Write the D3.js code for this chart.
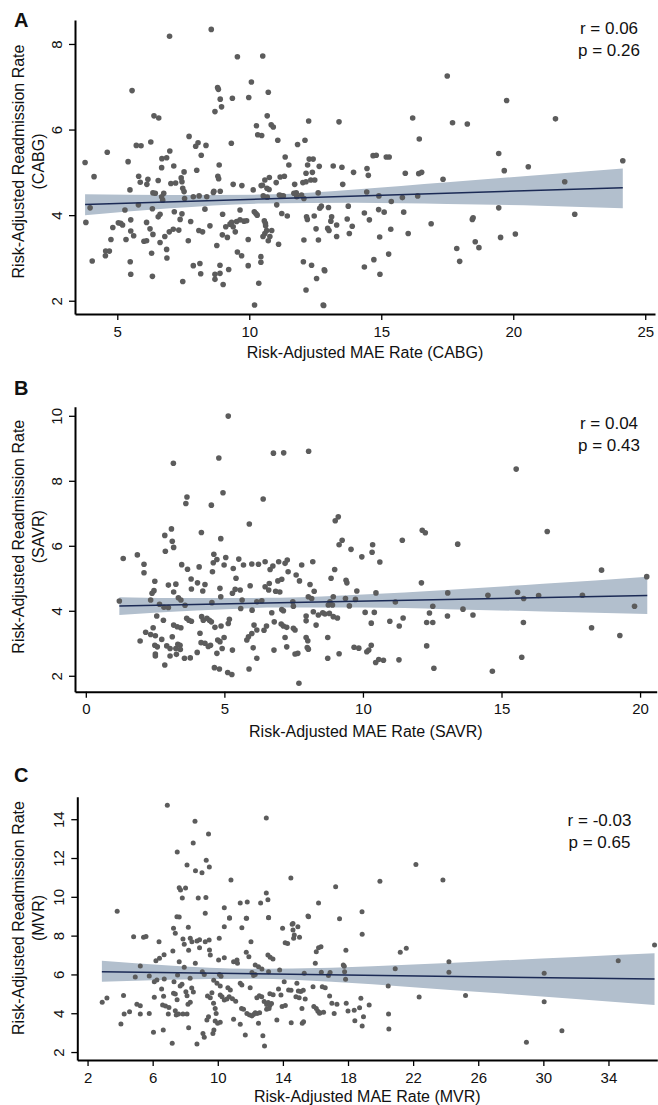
<!DOCTYPE html>
<html>
<head>
<meta charset="utf-8">
<script src="https://cdn.jsdelivr.net/npm/d3@7"></script>
<style>
  body { margin: 0; background: #fff; }
  svg { display: block; }
  text { font-family: "Liberation Sans", Arial, sans-serif; fill: #111; }
</style>
</head>
<body>
<svg id="chart" width="658" height="1105"></svg>
<script>
// ---------- Panel A: CABG  [MAE rate, readmission rate] per hospital ----------
const cabgPoints = [
  [3.78,5.23],[4.12,4.90],[4.62,5.47],[5.41,5.25],[5.56,6.91],[5.48,4.59],[5.72,5.63],[5.90,5.62],[5.81,4.91],[5.87,4.77],
  [6.12,4.72],[6.16,4.84],[6.27,5.71],[6.39,6.32],[6.57,6.27],[6.55,4.81],[6.35,4.52],[6.69,5.32],[6.87,5.34],[6.68,5.11],
  [6.98,8.18],[6.99,5.50],[7.14,5.15],[7.03,4.74],[7.21,4.75],[6.76,4.51],[7.42,4.87],[7.45,4.78],[7.48,4.63],[7.53,4.55],
  [7.53,5.01],[7.72,5.84],[8.01,5.05],[7.97,5.61],[8.06,5.69],[8.18,5.40],[8.36,5.63],[7.88,4.43],[8.39,4.43],[8.56,8.34],
  [8.66,4.56],[8.90,4.56],[8.70,6.42],[8.80,6.98],[8.83,6.94],[8.90,6.71],[8.95,6.53],[8.86,5.17],[8.81,4.91],[8.84,4.85],
  [9.36,6.73],[9.32,5.68],[9.39,4.72],[9.55,7.70],[9.72,4.69],[10.08,7.11],[9.98,6.75],[10.15,4.59],[10.27,6.09],[10.32,5.88],
  [10.47,5.86],[10.51,7.72],[10.45,4.69],[10.59,4.82],[10.76,4.88],[10.72,6.87],[10.68,6.32],[10.83,6.11],[10.91,6.06],[10.75,4.60],
  [11.02,4.76],[11.08,5.75],[11.17,4.89],[11.33,4.91],[11.36,5.36],[11.50,5.17],[11.72,4.72],[11.78,4.52],[11.83,5.65],[12.11,5.75],
  [12.25,6.20],[12.03,4.76],[12.15,4.78],[12.15,4.98],[12.21,5.17],[12.27,5.31],[12.42,5.31],[12.33,4.82],[12.39,5.00],[12.48,4.82],
  [12.65,5.14],[12.61,4.52],[11.20,4.46],[13.40,6.18],[13.18,5.15],[13.51,5.12],[13.95,5.00],[14.46,5.09],[14.51,4.93],[13.54,4.72],
  [14.69,5.39],[14.81,5.40],[15.19,5.36],[15.30,5.36],[16.19,6.27],[16.44,5.78],[15.91,4.98],[16.42,4.97],[16.53,5.00],[17.50,7.25],
  [17.70,6.16],[18.26,6.13],[17.34,4.84],[19.45,5.44],[19.75,6.68],[19.66,5.04],[20.57,5.13],[21.60,6.25],[21.95,4.78],[24.15,5.27],
  [14.45,4.54],[14.91,4.45],[15.80,4.41],[16.38,4.45],[15.38,4.32],[13.00,4.18],[13.12,3.96],[13.09,3.86],[13.31,3.77],[12.97,3.69],
  [13.02,3.64],[13.31,3.50],[13.75,4.21],[13.71,3.91],[13.90,3.74],[13.79,3.57],[14.36,4.05],[14.55,3.89],[14.90,4.13],[15.11,4.07],
  [14.94,3.49],[15.36,3.67],[15.85,4.07],[16.02,3.57],[16.89,3.80],[14.36,2.79],[14.72,2.96],[15.28,3.09],[14.95,2.62],[12.86,2.70],
  [12.82,1.89],[17.86,3.22],[17.97,2.92],[18.45,3.90],[18.48,3.94],[18.56,3.38],[18.70,3.24],[19.45,4.17],[19.52,3.48],[20.08,3.56],
  [22.33,4.02],[3.81,3.83],[3.97,4.17],[4.05,2.93],[4.55,3.05],[4.56,3.16],[4.70,3.16],[4.76,3.43],[4.83,3.71],[5.04,3.82],
  [5.13,3.81],[5.20,3.77],[5.29,4.12],[5.33,3.43],[5.51,3.89],[5.51,3.63],[5.62,3.52],[5.49,2.91],[5.51,2.62],[6.11,3.83],
  [6.01,3.39],[6.11,3.40],[6.24,3.68],[6.35,3.55],[6.30,3.11],[6.33,2.57],[6.33,4.15],[6.55,3.96],[6.62,4.02],[6.62,3.36],
  [6.80,3.50],[6.87,3.20],[6.88,3.00],[6.72,4.35],[6.68,4.43],[6.97,3.61],[7.12,3.67],[7.16,4.08],[7.33,3.65],[7.38,3.90],
  [7.45,4.03],[7.55,4.39],[7.48,2.45],[7.69,3.40],[7.78,3.85],[7.88,2.82],[8.13,2.87],[8.09,3.64],[8.23,3.61],[8.16,2.63],
  [8.32,4.14],[8.51,3.75],[8.70,2.50],[8.70,2.62],[8.89,2.64],[8.77,3.29],[8.99,4.02],[8.98,3.54],[9.17,3.48],[8.89,2.83],
  [9.01,2.38],[9.22,2.73],[9.11,3.73],[9.27,3.79],[9.33,3.83],[9.39,3.73],[9.47,3.61],[9.65,4.12],[9.55,3.14],[9.71,3.05],
  [9.52,3.85],[9.65,3.89],[9.80,3.86],[9.90,3.87],[9.96,3.43],[9.96,2.82],[10.19,4.08],[10.25,4.04],[10.30,4.00],[10.36,2.41],
  [10.20,1.90],[10.44,3.03],[10.44,2.90],[10.52,3.50],[10.59,3.57],[10.66,3.64],[10.57,3.87],[10.61,3.81],[10.62,3.75],[10.50,4.70],
  [10.67,4.63],[10.72,3.40],[10.78,3.50],[10.85,3.64],[11.11,3.32],[11.04,4.24],[11.23,4.04],[11.44,3.98],[12.07,3.42],[12.05,2.91],
  [12.15,2.25],[12.17,3.96],[12.20,3.90],[12.36,2.83],[12.53,3.68],[12.62,3.42],[12.55,2.52],[12.80,1.90],[12.84,2.72],[12.67,4.16],
  [12.73,4.21],[12.46,3.98],[5.80,4.24],[6.44,4.51],[8.10,4.45],[8.64,4.53],[10.53,4.45],[10.68,4.42],[11.14,4.47],[11.29,4.45],
  [11.69,4.51],[11.80,4.43],[11.98,4.47],[12.07,4.39]
];

// ---------- Panel B: SAVR ----------
const savrPoints = [
  [5.14,9.99],[8.04,8.91],[6.77,8.85],[7.14,8.86],[3.16,8.54],[4.80,8.70],[4.95,7.63],[6.40,7.44],[3.65,7.50],[3.61,7.30],
  [4.53,7.25],[5.90,6.67],[3.09,6.52],[2.85,6.32],[4.17,6.41],[3.12,6.14],[3.17,5.95],[2.87,5.83],[4.87,6.22],[4.62,5.74],
  [1.86,5.72],[1.35,5.61],[4.73,5.58],[5.05,5.64],[5.52,5.59],[15.53,8.36],[9.11,6.89],[9.00,6.77],[9.25,6.17],[9.14,6.03],
  [9.57,5.89],[9.96,5.66],[10.35,6.03],[10.33,5.80],[11.42,6.17],[12.14,6.48],[12.25,6.40],[13.42,6.05],[16.65,6.44],[10.61,5.50],
  [1.21,4.30],[2.10,5.43],[2.10,5.17],[1.96,3.07],[2.16,3.34],[2.34,3.27],[2.51,3.23],[2.39,4.54],[2.46,4.62],[2.49,4.91],
  [2.34,4.33],[2.56,3.84],[2.43,3.48],[2.49,2.94],[2.58,2.89],[2.51,2.67],[2.51,2.61],[2.74,3.12],[2.80,3.71],[2.66,4.20],
  [2.82,4.11],[2.98,4.10],[2.85,2.33],[2.98,4.79],[3.25,4.82],[3.17,4.58],[2.92,2.92],[3.04,2.84],[3.04,2.61],[3.12,3.20],
  [3.17,3.56],[3.30,3.51],[3.43,3.48],[3.34,4.40],[3.43,4.33],[3.25,2.84],[3.32,2.97],[3.40,2.94],[3.27,2.66],[3.41,2.81],
  [3.46,5.42],[3.67,5.28],[3.80,4.98],[3.64,3.77],[3.72,3.71],[3.81,3.68],[3.58,4.17],[3.56,2.54],[3.77,2.55],[3.81,4.67],
  [4.03,4.86],[4.09,5.35],[4.02,2.72],[4.12,3.31],[4.16,3.02],[4.18,3.82],[4.24,3.71],[4.37,3.77],[4.46,3.71],[4.53,3.66],
  [4.22,4.61],[4.30,4.81],[4.30,3.00],[4.42,2.90],[4.50,2.94],[4.57,5.20],[4.60,5.48],[4.55,4.25],[4.66,3.49],[4.64,2.25],
  [4.82,2.21],[4.73,2.69],[4.76,3.10],[4.84,3.05],[4.84,4.69],[4.87,4.43],[4.88,3.53],[4.92,2.84],[4.99,5.41],[4.99,3.18],
  [5.12,2.10],[5.27,2.04],[5.14,3.61],[5.18,3.74],[5.29,2.79],[5.29,4.54],[5.32,5.30],[5.42,5.00],[5.39,4.66],[5.57,4.64],
  [5.64,4.33],[5.69,5.41],[5.59,4.07],[5.81,3.10],[5.87,3.20],[5.99,3.30],[5.89,2.21],[5.93,4.77],[5.99,5.44],[6.23,5.43],
  [6.47,5.51],[6.04,2.86],[6.00,4.02],[6.17,2.54],[6.07,3.56],[6.17,3.41],[6.17,4.28],[6.35,4.31],[6.43,3.40],[6.52,3.53],
  [6.47,4.74],[6.60,4.64],[6.62,4.84],[6.65,5.27],[6.75,5.38],[6.71,3.94],[6.80,3.66],[6.79,2.79],[6.85,4.60],[7.00,4.58],
  [6.93,4.92],[7.07,4.97],[6.96,5.51],[7.19,5.46],[7.27,5.56],[7.07,4.04],[7.13,4.00],[7.05,3.59],[7.13,3.53],[7.25,3.49],
  [7.19,3.18],[7.25,2.89],[7.30,5.20],[7.55,2.67],[7.65,2.69],[7.59,5.10],[7.69,1.77],[7.71,4.92],[7.49,3.46],[7.55,3.41],
  [7.47,4.28],[7.49,4.14],[7.79,5.41],[7.95,3.84],[7.95,3.69],[7.95,3.18],[8.01,3.08],[7.99,2.87],[8.03,2.82],[8.03,4.43],
  [8.15,4.38],[8.09,4.81],[8.24,4.60],[8.19,5.51],[8.21,3.97],[8.39,3.87],[8.55,3.94],[8.31,3.56],[8.73,2.54],[8.73,3.18],
  [8.75,4.18],[8.98,5.27],[8.85,5.00],[9.39,4.94],[9.42,4.86],[9.78,4.61],[10.47,4.55],[8.93,4.43],[8.81,4.28],[8.90,4.18],
  [9.37,4.38],[9.51,4.15],[9.73,4.35],[8.63,3.90],[8.79,3.92],[8.93,3.82],[9.08,3.78],[10.08,3.95],[10.41,3.95],[10.30,3.62],
  [10.97,3.68],[11.31,3.53],[11.45,3.78],[11.17,4.27],[12.11,4.86],[12.52,4.14],[12.40,3.93],[12.30,3.64],[12.52,3.64],[13.06,4.55],
  [13.05,3.84],[13.61,4.05],[13.97,3.87],[14.51,4.48],[15.58,4.57],[15.80,4.38],[15.79,3.64],[16.34,4.47],[17.92,4.48],[18.61,5.25],
  [18.25,3.48],[19.27,3.24],[19.80,4.14],[20.24,5.05],[9.14,2.68],[9.68,2.88],[9.85,2.85],[10.14,2.74],[10.21,2.79],[10.30,2.94],
  [10.46,2.41],[10.57,2.50],[10.74,2.48],[11.30,2.49],[12.30,2.92],[12.56,2.23],[14.67,2.14],[15.73,2.57]
];

// ---------- Panel C: MVR ----------
const mvrPoints = [
  [6.90,14.72],[8.60,13.89],[9.43,13.24],[8.49,12.77],[7.51,12.31],[8.11,11.64],[9.29,11.88],[9.48,11.54],[8.63,11.35],[9.03,11.24],
  [12.98,14.06],[10.81,10.87],[14.49,10.97],[7.63,10.47],[7.71,10.35],[8.02,10.45],[7.82,9.94],[8.80,9.94],[9.27,9.97],[12.98,10.20],
  [13.08,9.85],[11.38,9.68],[11.81,9.73],[12.63,9.68],[10.40,9.44],[16.19,9.68],[3.82,9.25],[7.63,8.96],[9.23,9.15],[10.72,8.92],
  [11.75,8.89],[13.12,8.94],[15.54,9.01],[14.62,8.63],[22.17,11.66],[17.24,10.52],[19.96,10.80],[23.83,10.87],[17.48,8.87],[18.86,9.23],
  [2.90,4.56],[3.19,4.78],[4.05,3.44],[4.21,4.92],[4.25,3.96],[4.58,4.08],[4.83,7.94],[4.93,5.87],[5.03,4.46],[5.24,4.39],
  [5.24,3.96],[5.24,6.43],[5.44,7.91],[5.59,7.96],[5.79,3.99],[5.79,5.92],[6.05,3.02],[6.10,5.62],[6.26,5.71],[6.10,4.82],
  [6.20,6.71],[6.39,7.69],[6.42,6.83],[6.70,7.02],[6.55,5.25],[6.61,4.42],[6.65,3.13],[6.71,5.76],[6.67,4.87],[6.79,4.37],
  [7.00,4.30],[6.96,3.96],[7.20,2.45],[7.24,7.21],[7.28,8.38],[7.39,8.12],[7.49,8.97],[7.31,5.62],[7.53,5.97],[7.28,5.03],
  [7.39,4.99],[7.39,4.13],[7.45,3.91],[7.50,4.70],[7.59,3.96],[7.86,3.96],[8.11,3.96],[7.63,6.65],[7.69,5.40],[7.80,5.49],
  [7.86,7.82],[7.94,7.55],[7.94,6.37],[8.04,5.11],[8.11,4.90],[8.19,8.43],[8.21,7.24],[8.17,4.46],[8.31,4.56],[8.21,3.25],
  [8.31,7.86],[8.41,7.69],[8.30,5.80],[8.40,5.30],[8.50,5.10],[8.62,6.57],[8.72,2.41],[8.72,7.72],[8.88,7.79],[8.88,7.38],
  [9.05,6.14],[9.17,6.00],[9.09,2.96],[9.17,2.76],[9.23,7.69],[9.47,7.77],[9.33,3.65],[9.43,3.82],[9.49,7.26],[9.54,7.00],
  [9.37,4.89],[9.54,4.80],[9.70,2.96],[9.76,3.13],[9.64,5.06],[9.74,4.51],[9.84,4.25],[9.90,3.99],[9.84,3.60],[9.99,3.48],
  [10.15,3.53],[9.75,5.70],[9.95,5.55],[10.15,5.40],[10.09,7.86],[10.05,6.74],[10.40,6.86],[10.15,4.94],[10.26,4.85],[10.40,4.68],
  [10.56,4.73],[10.10,6.00],[10.20,5.90],[10.40,8.46],[10.72,8.89],[10.62,5.31],[10.77,5.20],[10.70,4.85],[10.90,4.75],[11.10,4.62],
  [10.97,6.65],[11.18,6.74],[11.21,6.57],[10.97,3.69],[11.38,5.54],[11.48,5.45],[11.48,8.41],[11.69,2.88],[11.77,8.89],[11.46,4.25],
  [11.58,4.20],[11.38,3.43],[11.75,7.14],[11.91,6.91],[11.79,3.99],[11.95,3.91],[12.10,3.86],[12.20,3.94],[12.30,4.03],[12.41,3.99],
  [12.57,4.03],[12.04,7.69],[11.99,5.31],[12.10,6.10],[12.20,5.95],[12.30,6.00],[12.30,6.48],[12.50,6.40],[12.71,6.28],[12.40,4.80],
  [12.55,4.90],[12.70,4.85],[12.50,3.48],[12.77,2.84],[12.87,2.31],[12.85,4.60],[13.00,4.45],[13.10,4.55],[13.20,4.40],[13.30,4.50],
  [13.00,4.20],[13.15,4.25],[13.08,7.00],[13.22,6.88],[13.39,6.79],[13.12,8.92],[13.12,6.14],[13.20,5.00],[13.40,4.95],[13.63,3.65],
  [13.73,5.25],[13.88,4.94],[13.80,6.23],[13.98,8.38],[14.08,5.62],[14.14,7.63],[14.29,7.60],[13.95,4.35],[14.15,4.40],[14.35,5.20],
  [14.50,5.18],[14.51,3.51],[14.57,8.58],[14.62,8.29],[14.70,8.03],[14.66,7.86],[14.92,8.46],[15.02,7.91],[14.86,5.54],[14.80,4.85],
  [15.00,4.80],[14.95,5.15],[15.10,5.12],[15.25,5.18],[15.17,4.25],[15.19,3.48],[15.27,3.56],[15.37,4.73],[15.31,6.06],[15.58,8.97],
  [15.85,5.37],[15.90,4.35],[16.05,4.25],[16.15,4.10],[16.25,4.00],[15.99,6.57],[16.05,7.17],[16.19,7.38],[16.34,7.43],[16.36,6.11],
  [16.42,5.37],[16.60,5.31],[16.80,5.95],[16.90,6.10],[18.87,8.07],[17.87,7.24],[21.21,7.14],[21.58,7.35],[17.71,6.48],[17.77,6.42],
  [17.79,6.14],[17.85,5.75],[20.90,6.29],[24.20,6.65],[24.20,6.11],[20.47,5.40],[16.87,4.89],[17.01,4.51],[17.32,4.46],[17.89,4.51],
  [18.79,4.77],[19.30,4.42],[22.37,4.84],[25.22,4.92],[30.05,6.06],[30.05,4.59],[34.60,6.71],[36.83,7.52],[31.14,3.10],[28.96,2.50],
  [16.29,4.03],[16.50,4.05],[17.15,3.99],[18.00,4.11],[18.38,4.15],[18.71,4.28],[18.95,3.82],[18.42,3.61],[18.87,3.34],[20.49,3.96],
  [20.51,3.19]
];

// Fitted regression line [x, y] at the ends of the data range
const cabgFit = [[3.78, 4.25], [24.15, 4.64]];
const savrFit = [[1.21, 4.15], [20.26, 4.47]];
const mvrFit  = [[2.88, 6.14], [36.83, 5.76]];

// 95% confidence band of the fit: [x, lower, upper]
const cabgBand = [[3.78,4.00,4.49],[7,4.16,4.47],[10.5,4.27,4.48],[14,4.29,4.60],[17.5,4.26,4.77],[21,4.22,4.94],[24.15,4.16,5.09]];
const savrBand = [[1.21,3.87,4.42],[4,4.01,4.39],[7,4.10,4.40],[10,4.10,4.50],[13,4.05,4.64],[16.5,3.98,4.83],[20.26,3.90,5.05]];
const mvrBand  = [[2.88,5.62,6.71],[7,5.73,6.46],[12,5.78,6.29],[17,5.62,6.35],[22,5.34,6.51],[27,5.04,6.70],[32,4.73,6.90],[36.83,4.42,7.09]];

// Tick values
const cabgXTicks = [5, 10, 15, 20, 25];
const cabgYTicks = [2, 4, 6, 8];
const savrXTicks = [0, 5, 10, 15, 20];
const savrYTicks = [2, 4, 6, 8, 10];
const mvrXTicks  = [2, 6, 10, 14, 18, 22, 26, 30, 34];
const mvrYTicks  = [2, 4, 6, 8, 10, 12, 14];

// Correlation annotations
const cabgStats = ["r = 0.06", "p = 0.26"];
const savrStats = ["r = 0.04", "p = 0.43"];
const mvrStats  = ["r = -0.03", "p = 0.65"];

const panels = [
  { letter: "A", pts: cabgPoints, fit: cabgFit, band: cabgBand, xTicks: cabgXTicks, yTicks: cabgYTicks, stats: cabgStats,
    proc: "CABG", xDomain: [3.398, 25.37], xRange: [75, 655], yDomain: [1.69, 8.56], yRange: [314, 20],
    letterY: 27, xTitleY: 358, yTitleY: 161.5, statX: 609, statY: 34, r: 2.8 },
  { letter: "B", pts: savrPoints, fit: savrFit, band: savrBand, xTicks: savrXTicks, yTicks: savrYTicks, stats: savrStats,
    proc: "SAVR", xDomain: [-0.39, 20.6], xRange: [75, 656.7], yDomain: [1.51, 10.28], yRange: [691.7, 406.7],
    letterY: 395, xTitleY: 737, yTitleY: 536.7, statX: 609, statY: 429, r: 2.8 },
  { letter: "C", pts: mvrPoints, fit: mvrFit, band: mvrBand, xTicks: mvrXTicks, yTicks: mvrYTicks, stats: mvrStats,
    proc: "MVR", xDomain: [1.37, 37.0], xRange: [77.3, 657.3], yDomain: [1.59, 15.16], yRange: [1060, 796.7],
    letterY: 782, xTitleY: 1102, yTitleY: 918, statX: 599.5, statY: 826, r: 2.5 }
];

const svg = d3.select("#chart");
const intFmt = d3.format("d");

panels.forEach(p => {
  const g = svg.append("g");
  const x = d3.scaleLinear().domain(p.xDomain).range(p.xRange);
  const y = d3.scaleLinear().domain(p.yDomain).range(p.yRange);

  // confidence band
  g.append("path")
    .datum(p.band)
    .attr("fill", "#b2bfcd")
    .attr("d", d3.area().curve(d3.curveMonotoneX)
      .x(d => x(d[0])).y0(d => y(d[1])).y1(d => y(d[2])));

  // hospitals
  g.append("g").selectAll("circle")
    .data(p.pts)
    .join("circle")
    .attr("cx", d => x(d[0]))
    .attr("cy", d => y(d[1]))
    .attr("r", p.r)
    .attr("fill", "#5c5c5c");

  // fitted line
  g.append("path")
    .datum(p.fit)
    .attr("fill", "none")
    .attr("stroke", "#1b2a55")
    .attr("stroke-width", 1.5)
    .attr("d", d3.line().x(d => x(d[0])).y(d => y(d[1])));

  // x axis
  const xa = g.append("g")
    .attr("transform", `translate(0,${p.yRange[0]})`)
    .call(d3.axisBottom(x).tickValues(p.xTicks).tickFormat(intFmt)
      .tickSize(6).tickSizeOuter(0).tickPadding(6));
  // y axis
  const ya = g.append("g")
    .attr("transform", `translate(${p.xRange[0]},0)`)
    .call(d3.axisLeft(y).tickValues(p.yTicks).tickFormat(intFmt)
      .tickSize(6).tickSizeOuter(0));

  [xa, ya].forEach(a => {
    a.select(".domain").attr("stroke", "#000").attr("stroke-width", 2);
    a.selectAll(".tick line").attr("stroke", "#000").attr("stroke-width", 1.3);
    a.selectAll("text").attr("font-size", 15).attr("font-family", "Liberation Sans, Arial, sans-serif").attr("fill", "#111");
  });
  ya.selectAll(".tick text")
    .attr("x", 0).attr("dy", 0)
    .attr("text-anchor", "middle")
    .attr("transform", "translate(-13,0) rotate(-90)");

  // axis titles
  g.append("text")
    .attr("x", (p.xRange[0] + p.xRange[1]) / 2)
    .attr("y", p.xTitleY)
    .attr("text-anchor", "middle")
    .attr("font-size", 16)
    .text(`Risk-Adjusted MAE Rate (${p.proc})`);

  const yt = g.append("g").attr("transform", `translate(0,${p.yTitleY}) rotate(-90)`);
  yt.append("text").attr("x", 0).attr("y", 24).attr("text-anchor", "middle").attr("font-size", 16)
    .text("Risk-Adjusted Readmission Rate");
  yt.append("text").attr("x", 0).attr("y", 44).attr("text-anchor", "middle").attr("font-size", 16)
    .text(`(${p.proc})`);

  // panel letter
  g.append("text")
    .attr("x", 14).attr("y", p.letterY)
    .attr("font-size", 20).attr("font-weight", "bold")
    .text(p.letter);

  // correlation statistics
  p.stats.forEach((s, i) => {
    g.append("text")
      .attr("x", p.statX).attr("y", p.statY + i * 22)
      .attr("text-anchor", "middle")
      .attr("font-size", 17)
      .text(s);
  });
});
</script>
</body>
</html>
